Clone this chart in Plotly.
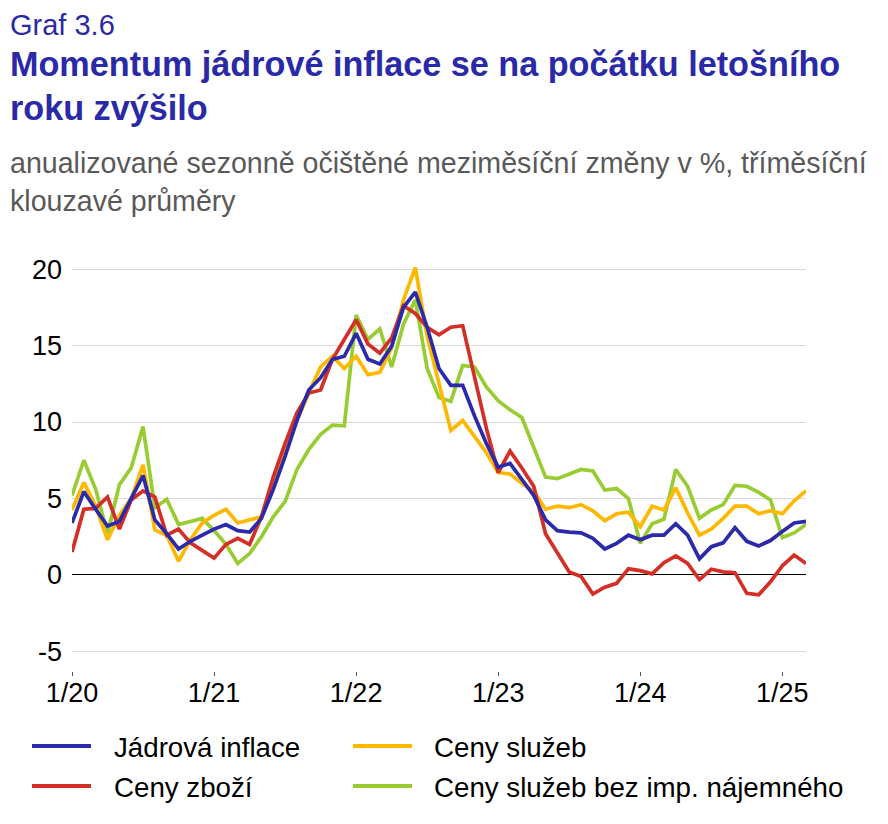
import plotly.graph_objects as go

# months 1/20 .. 3/25 (index 0 = January 2020)
months = list(range(63))
tick_vals = [0, 12, 24, 36, 48, 60]
tick_text = ["1/20", "1/21", "1/22", "1/23", "1/24", "1/25"]
y_vals = [-5, 0, 5, 10, 15, 20]
y_text = ["-5", "0", "5", "10", "15", "20"]

jadrova = [3.4, 5.45, 4.3, 3.2, 3.5, 5.0, 6.5, 3.6, 2.7, 1.7, 2.2, 2.6, 3.0, 3.3, 2.9, 2.8,
           3.7, 5.6, 7.75, 10.1, 12.1, 12.9, 14.1, 14.3, 15.8, 14.1, 13.8, 14.96, 17.5, 18.5,
           16.2, 13.5, 12.4, 12.4, 10.4, 8.6, 7.05, 7.3, 6.2, 5.2, 3.6, 2.9, 2.8, 2.75, 2.4,
           1.7, 2.07, 2.6, 2.3, 2.6, 2.6, 3.35, 2.6, 1.05, 1.85, 2.1, 3.1, 2.2, 1.9, 2.25,
           2.85, 3.4, 3.5]
zbozi = [1.5, 4.3, 4.35, 5.1, 3.0, 4.9, 5.5, 5.1, 2.6, 3.0, 2.1, 1.6, 1.1, 2.0, 2.4, 2.0,
         3.8, 6.4, 8.6, 10.6, 11.9, 12.1, 14.1, 15.4, 16.7, 15.1, 14.5, 15.5, 17.6, 17.1,
         16.2, 15.7, 16.2, 16.3, 13.0, 9.6, 6.7, 8.1, 7.0, 5.8, 2.7, 1.4, 0.2, -0.1, -1.25,
         -0.8, -0.55, 0.4, 0.28, 0.07, 0.8, 1.25, 0.75, -0.3, 0.37, 0.2, 0.15, -1.2, -1.3,
         -0.45, 0.6, 1.3, 0.75]
sluzby = [4.25, 6.05, 4.5, 2.3, 3.9, 5.0, 7.2, 2.95, 2.6, 0.9, 2.3, 3.4, 3.9, 4.3, 3.4, 3.6,
          3.8, 5.8, 8.0, 10.1, 11.9, 13.6, 14.3, 13.5, 14.3, 13.1, 13.25, 14.85, 18.0, 20.1,
          15.6, 12.6, 9.45, 10.1, 9.05, 8.0, 6.7, 6.6, 6.0, 5.45, 4.3, 4.5, 4.4, 4.6, 4.2,
          3.55, 4.0, 4.1, 3.15, 4.5, 4.25, 5.7, 4.05, 2.6, 3.0, 3.7, 4.5, 4.5, 4.0, 4.2,
          4.0, 4.85, 5.5]
sluzby_bez_naj = [5.2, 7.5, 5.6, 2.7, 5.9, 7.0, 9.7, 4.4, 4.95, 3.3, 3.5, 3.7, 2.9, 2.0, 0.75,
                  1.4, 2.5, 3.8, 4.8, 6.9, 8.2, 9.2, 9.8, 9.75, 17.0, 15.4, 16.1, 13.6, 16.4,
                  18.0, 13.5, 11.6, 11.35, 13.7, 13.6, 12.3, 11.4, 10.8, 10.3, 8.4, 6.4, 6.3,
                  6.6, 6.9, 6.8, 5.55, 5.65, 5.0, 2.07, 3.35, 3.65, 6.9, 5.8, 3.7, 4.25, 4.6,
                  5.85, 5.8, 5.4, 4.9, 2.45, 2.75, 3.3]

series = [
    ("Ceny služeb bez imp. nájemného", sluzby_bez_naj, "#99cc33"),
    ("Ceny služeb", sluzby, "#ffb800"),
    ("Ceny zboží", zbozi, "#d42f26"),
    ("Jádrová inflace", jadrova, "#2a2aaa"),
]

# page has an 8px body margin, so the figure sits 8px in from the window corner
OFF = 8
W, H = 872, 808
ML, MT = 72 - OFF, 263 - OFF
MR = W - (806 - OFF)
MB = H - (671 - OFF)
PW, PH = W - ML - MR, H - MT - MB


def px(x):
    # window pixel -> paper x
    return (x - OFF - ML) / PW


def py(y):
    # window pixel -> paper y
    return (H - MB - (y - OFF)) / PH


FONT = "Liberation Sans, Arial, sans-serif"
BLUE = "#2a2aa8"

fig = go.Figure()
for name, vals, col in series:
    fig.add_trace(go.Scatter(x=months, y=vals, mode="lines", name=name,
                             line=dict(color=col, width=3.7), showlegend=False))

texts = [
    ("Graf 3.6", 29, BLUE, 24.5),
    ("<b>Momentum jádrové inflace se na počátku letošního</b>", 34.2, BLUE, 64),
    ("<b>roku zvýšilo</b>", 34.2, BLUE, 108),
    ("anualizované sezonně očištěné meziměsíční změny v %, tříměsíční", 28.6, "#595959", 163),
    ("klouzavé průměry", 28.6, "#595959", 201),
]
annotations = []
for t, size, col, yc in texts:
    annotations.append(dict(text=t, x=px(8), y=py(yc), xref="paper", yref="paper",
                            xanchor="left", yanchor="middle", showarrow=False,
                            font=dict(size=size, color=col, family=FONT)))

# legend drawn by hand (long line swatches)
legend_items = [
    ("Jádrová inflace", "#2a2aaa", 32, 112, 747),
    ("Ceny zboží", "#d42f26", 32, 112, 787),
    ("Ceny služeb", "#ffb800", 353, 432, 747),
    ("Ceny služeb bez imp. nájemného", "#99cc33", 353, 432, 787),
]
shapes = []
for name, col, lx, tx, ly in legend_items:
    shapes.append(dict(type="line", xref="paper", yref="paper", x0=px(lx), x1=px(lx + 59),
                       y0=py(ly - 1), y1=py(ly - 1), line=dict(color=col, width=4)))
    annotations.append(dict(text=name, x=px(tx), y=py(ly), xref="paper", yref="paper",
                            xanchor="left", yanchor="middle", showarrow=False,
                            font=dict(size=27.7, color="#000000", family=FONT)))

fig.update_layout(
    width=W, height=H,
    margin=dict(l=ML, r=MR, t=MT, b=MB),
    paper_bgcolor="white", plot_bgcolor="white",
    font=dict(family=FONT, size=27, color="#000000"),
    annotations=annotations, shapes=shapes,
    showlegend=False,
)
fig.update_xaxes(range=[0, 62], tickvals=tick_vals, ticktext=tick_text,
                 showgrid=False, zeroline=False, showline=False,
                 ticks="outside", ticklen=4, tickcolor="#555555", tickwidth=1,
                 ticklabelstandoff=-6, tickfont=dict(size=27))
fig.update_yaxes(range=[-6.28, 20.4], tickvals=y_vals, ticktext=y_text,
                 showgrid=True, gridcolor="#d9d9d9", gridwidth=1,
                 zeroline=True, zerolinecolor="#000000", zerolinewidth=1,
                 showline=False, ticks="", ticklabelstandoff=9,
                 tickfont=dict(size=27))

fig.write_html("out.html")
